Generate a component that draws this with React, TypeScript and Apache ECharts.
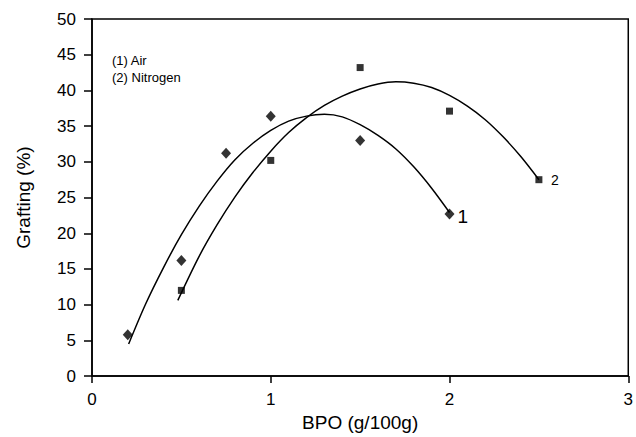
import React, { useEffect, useRef } from "react";
import * as echarts from "echarts";

const xTicks = [0, 1, 2, 3];
const yTicks = [0, 5, 10, 15, 20, 25, 30, 35, 40, 45, 50];

// Series (1) Air – diamonds
const airX = [0.2, 0.5, 0.75, 1.0, 1.5, 2.0];
const airY = [5.8, 16.2, 31.2, 36.4, 33.0, 22.7];

// Series (2) Nitrogen – squares
const n2X = [0.5, 1.0, 1.5, 2.0, 2.5];
const n2Y = [12.0, 30.2, 43.2, 37.1, 27.5];

// Trend curves
const airCurveX = [0.205, 0.3, 0.4, 0.5, 0.6, 0.7, 0.8, 0.9, 1.0, 1.1, 1.2, 1.3, 1.4, 1.5, 1.6, 1.7, 1.8, 1.9, 2.0];
const airCurveY = [4.5, 10.1, 15.2, 19.8, 23.8, 27.3, 30.3, 32.6, 34.4, 35.7, 36.4, 36.65, 36.3, 35.2, 33.7, 31.8, 29.3, 26.3, 22.9];

const n2CurveX = [0.48, 0.6, 0.7, 0.8, 0.9, 1.0, 1.1, 1.2, 1.3, 1.4, 1.5, 1.6, 1.7, 1.8, 1.9, 2.0, 2.1, 2.2, 2.3, 2.4, 2.5];
const n2CurveY = [10.6, 16.8, 21.2, 25.1, 28.5, 31.5, 34.1, 36.2, 37.9, 39.2, 40.2, 40.9, 41.2, 41.0, 40.4, 39.3, 37.8, 35.9, 33.5, 30.7, 27.5];

const legendLines = ["(1) Air", "(2) Nitrogen"];
const curveLabels = ["1", "2"];

const zip = (xs: number[], ys: number[]) => xs.map((x, i) => [x, ys[i]]);

const FONT = "'Liberation Sans', Arial, Helvetica, sans-serif";

export default function App() {
  const ref = useRef<HTMLDivElement>(null);
  useEffect(() => {
    if (!ref.current) return;
    const chart = echarts.init(ref.current, undefined, { renderer: "svg" });
    chart.setOption({
      animation: false,
      backgroundColor: "#ffffff",
      textStyle: { fontFamily: FONT },
      grid: {
        left: 92,
        right: 2,
        top: 19,
        bottom: 56,
        show: true,
        borderColor: "#000",
        borderWidth: 1.5,
      },
      xAxis: {
        type: "value",
        min: xTicks[0],
        max: xTicks[xTicks.length - 1],
        interval: 1,
        name: "BPO (g/100g)",
        nameLocation: "middle",
        nameGap: 33,
        nameTextStyle: { fontSize: 19, color: "#000", fontFamily: FONT, verticalAlign: "top" },
        axisLine: { show: true, onZero: false, lineStyle: { color: "#000", width: 1.5 } },
        axisTick: { show: true, inside: false, length: 7, lineStyle: { color: "#000", width: 1.5 } },
        axisLabel: { fontSize: 17, color: "#000", margin: 15, fontFamily: FONT },
        splitLine: { show: false },
      },
      yAxis: {
        type: "value",
        min: yTicks[0],
        max: yTicks[yTicks.length - 1],
        interval: 5,
        name: "Grafting (%)",
        nameLocation: "middle",
        nameGap: 59,
        nameTextStyle: { fontSize: 19, color: "#000", fontFamily: FONT },
        axisLine: { show: true, onZero: false, lineStyle: { color: "#000", width: 1.5 } },
        axisTick: { show: true, inside: false, length: 8, lineStyle: { color: "#000", width: 1.5 } },
        axisLabel: { fontSize: 17, color: "#000", margin: 16, fontFamily: FONT },
        splitLine: { show: false },
      },
      graphic: legendLines.map((t, i) => ({
        type: "text",
        left: 112,
        top: 54 + i * 16.5,
        style: { text: t, fontSize: 13, fill: "#000", fontFamily: FONT },
      })),
      series: [
        {
          type: "line",
          data: zip(airCurveX, airCurveY),
          smooth: 0.3,
          showSymbol: false,
          lineStyle: { color: "#000", width: 1.5 },
          endLabel: {
            show: true,
            formatter: curveLabels[0],
            fontSize: 19,
            color: "#000",
            fontFamily: FONT,
            distance: 8,
            offset: [0, 4],
          },
          z: 2,
        },
        {
          type: "line",
          data: zip(n2CurveX, n2CurveY),
          smooth: 0.3,
          showSymbol: false,
          lineStyle: { color: "#000", width: 1.5 },
          endLabel: {
            show: true,
            formatter: curveLabels[1],
            fontSize: 14,
            color: "#000",
            fontFamily: FONT,
            distance: 12,
          },
          z: 2,
        },
        {
          type: "scatter",
          data: zip(airX, airY),
          symbol: "diamond",
          symbolSize: [10, 11],
          itemStyle: { color: "#000" },
          z: 3,
        },
        {
          type: "scatter",
          data: zip(n2X, n2Y),
          symbol: "rect",
          symbolSize: 7,
          itemStyle: { color: "#000" },
          z: 3,
        },
      ],
    });
    return () => chart.dispose();
  }, []);
  return (
    <div
      ref={ref}
      style={{ position: "absolute", left: 0, top: 0, width: 636, height: 437, background: "#fff" }}
    />
  );
}
